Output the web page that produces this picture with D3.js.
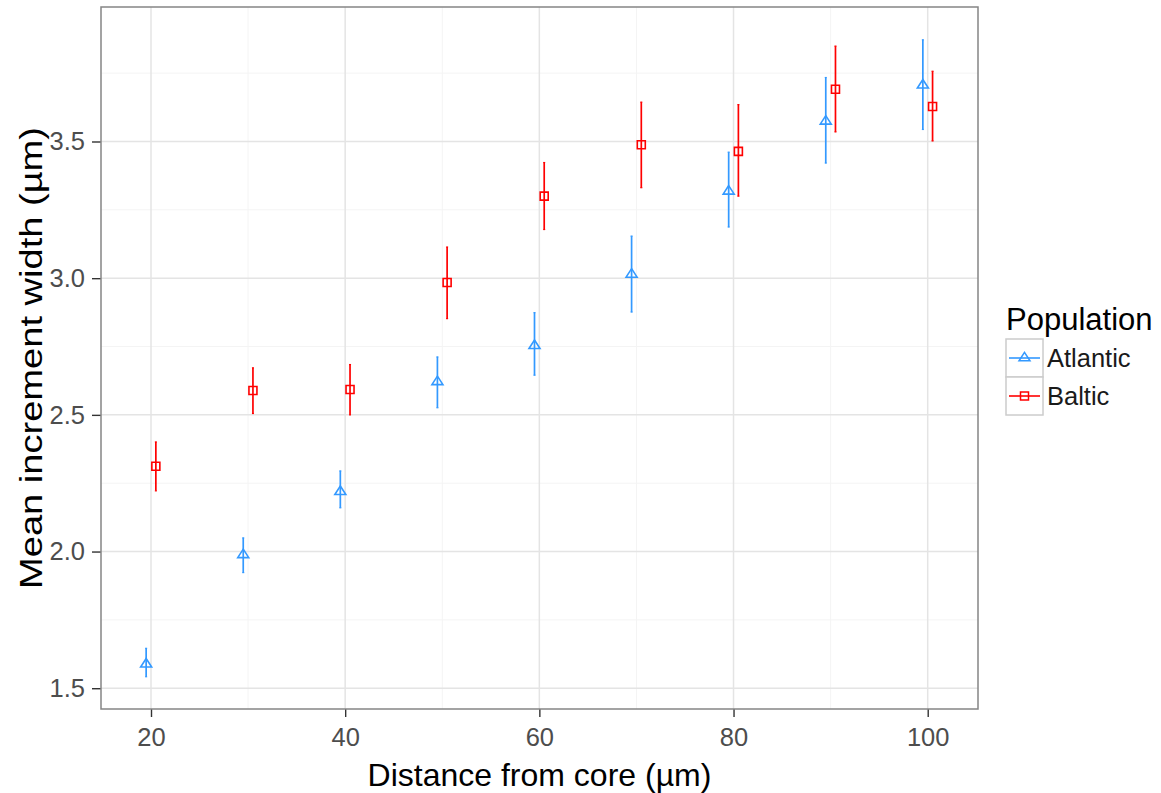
<!DOCTYPE html>
<html>
<head>
<meta charset="utf-8">
<script src="https://cdn.jsdelivr.net/npm/d3@7"></script>
<style>
  html, body { margin: 0; padding: 0; background: #fff; }
  svg { display: block; }
</style>
</head>
<body>
<div id="chart"></div>
<script>
// Data
var distances = [20, 30, 40, 50, 60, 70, 80, 90, 100];
var populations = ["Atlantic", "Baltic"];
var atlanticMean = [1.588, 1.988, 2.219, 2.621, 2.753, 3.014, 3.318, 3.574, 3.706];
var atlanticLow  = [1.542, 1.923, 2.160, 2.526, 2.645, 2.876, 3.187, 3.421, 3.544];
var atlanticHigh = [1.646, 2.050, 2.295, 2.712, 2.874, 3.154, 3.461, 3.734, 3.872];
var balticMean = [2.312, 2.589, 2.593, 2.984, 3.300, 3.488, 3.464, 3.691, 3.628];
var balticLow  = [2.222, 2.505, 2.500, 2.852, 3.178, 3.331, 3.300, 3.535, 3.502];
var balticHigh = [2.401, 2.672, 2.684, 3.114, 3.423, 3.644, 3.635, 3.849, 3.757];
var xTicks = [20, 40, 60, 80, 100];
var xMinor = [30, 50, 70, 90];
var yTicks = [1.5, 2.0, 2.5, 3.0, 3.5];
var yMinor = [1.75, 2.25, 2.75, 3.25, 3.75];

var colours = { Atlantic: "#3399ff", Baltic: "#ff0000" };
var dodge = { Atlantic: -0.5, Baltic: 0.5 };

var rows = [];
distances.forEach(function (d, i) {
  rows.push({ pop: "Atlantic", x: d, mean: atlanticMean[i], lo: atlanticLow[i], hi: atlanticHigh[i] });
  rows.push({ pop: "Baltic", x: d, mean: balticMean[i], lo: balticLow[i], hi: balticHigh[i] });
});

var width = 1161, height = 793;
var panel = { left: 101, right: 978, top: 7, bottom: 709 };
var font = "'Liberation Sans', Arial, sans-serif";

var svg = d3.select("#chart").append("svg")
  .attr("width", width).attr("height", height);

var x = d3.scaleLinear().domain([14.85, 105.18]).range([panel.left, panel.right]);
var y = d3.scaleLinear().domain([1.424, 3.992]).range([panel.bottom, panel.top]);

var g = svg.append("g");

// Minor grid
g.selectAll(".xminor").data(xMinor).join("line")
  .attr("x1", function (d) { return x(d); }).attr("x2", function (d) { return x(d); })
  .attr("y1", panel.top).attr("y2", panel.bottom)
  .attr("stroke", "#f4f4f4").attr("stroke-width", 1);
g.selectAll(".yminor").data(yMinor).join("line")
  .attr("y1", function (d) { return y(d); }).attr("y2", function (d) { return y(d); })
  .attr("x1", panel.left).attr("x2", panel.right)
  .attr("stroke", "#f4f4f4").attr("stroke-width", 1);

// Major grid
g.selectAll(".xmajor").data(xTicks).join("line")
  .attr("x1", function (d) { return x(d); }).attr("x2", function (d) { return x(d); })
  .attr("y1", panel.top).attr("y2", panel.bottom)
  .attr("stroke", "#e4e4e4").attr("stroke-width", 1.5);
g.selectAll(".ymajor").data(yTicks).join("line")
  .attr("y1", function (d) { return y(d); }).attr("y2", function (d) { return y(d); })
  .attr("x1", panel.left).attr("x2", panel.right)
  .attr("stroke", "#e4e4e4").attr("stroke-width", 1.5);

// Axes
var xAxis = d3.axisBottom(x).tickValues(xTicks).tickSize(8).tickPadding(11).tickFormat(d3.format("d"));
svg.append("g")
  .attr("transform", "translate(0," + panel.bottom + ")")
  .call(xAxis)
  .call(function (gg) { gg.select(".domain").remove(); })
  .call(function (gg) { gg.selectAll(".tick line").attr("stroke", "#333").attr("stroke-width", 1.4); })
  .call(function (gg) {
    gg.selectAll(".tick text").attr("font-family", font).attr("font-size", 25.5).attr("fill", "#4d4d4d");
  });

var yAxis = d3.axisLeft(y).tickValues(yTicks).tickSize(9).tickPadding(7).tickFormat(d3.format(".1f"));
svg.append("g")
  .attr("transform", "translate(" + panel.left + ",0)")
  .call(yAxis)
  .call(function (gg) { gg.select(".domain").remove(); })
  .call(function (gg) { gg.selectAll(".tick line").attr("stroke", "#333").attr("stroke-width", 1.4); })
  .call(function (gg) {
    gg.selectAll(".tick text").attr("font-family", font).attr("font-size", 25.5).attr("fill", "#4d4d4d");
  });

// Panel border
svg.append("rect")
  .attr("x", panel.left).attr("y", panel.top)
  .attr("width", panel.right - panel.left).attr("height", panel.bottom - panel.top)
  .attr("fill", "none").attr("stroke", "#858585").attr("stroke-width", 1.5);

// Shapes
function trianglePath(cx, cy) {
  var w = 11, h = 8.5;
  return "M" + cx + "," + (cy - h * 2 / 3) +
    "L" + (cx + w / 2) + "," + (cy + h / 3) +
    "L" + (cx - w / 2) + "," + (cy + h / 3) + "Z";
}
function squarePath(cx, cy) {
  var s = 8;
  return "M" + (cx - s / 2) + "," + (cy - s / 2) + "h" + s + "v" + s + "h" + (-s) + "Z";
}
function shapePath(pop, cx, cy) {
  return pop === "Atlantic" ? trianglePath(cx, cy) : squarePath(cx, cy);
}

var pts = svg.append("g");
function px(d) { return x(d.x + dodge[d.pop]); }

// Error bars
pts.selectAll(".err").data(rows).join("line")
  .attr("class", "err")
  .attr("x1", px).attr("x2", px)
  .attr("y1", function (d) { return y(d.lo); }).attr("y2", function (d) { return y(d.hi); })
  .attr("stroke", function (d) { return colours[d.pop]; }).attr("stroke-width", 1.7);
pts.selectAll(".cap-hi").data(rows).join("line")
  .attr("x1", function (d) { return px(d) - 1; }).attr("x2", function (d) { return px(d) + 1; })
  .attr("y1", function (d) { return y(d.hi); }).attr("y2", function (d) { return y(d.hi); })
  .attr("stroke", function (d) { return colours[d.pop]; }).attr("stroke-width", 1.2);
pts.selectAll(".cap-lo").data(rows).join("line")
  .attr("x1", function (d) { return px(d) - 1; }).attr("x2", function (d) { return px(d) + 1; })
  .attr("y1", function (d) { return y(d.lo); }).attr("y2", function (d) { return y(d.lo); })
  .attr("stroke", function (d) { return colours[d.pop]; }).attr("stroke-width", 1.2);

// Points
pts.selectAll(".pt").data(rows).join("path")
  .attr("class", "pt")
  .attr("d", function (d) { return shapePath(d.pop, px(d), y(d.mean)); })
  .attr("fill", "none")
  .attr("stroke", function (d) { return colours[d.pop]; }).attr("stroke-width", 1.6);

// Axis titles
svg.append("text")
  .attr("x", (panel.left + panel.right) / 2).attr("y", 786)
  .attr("text-anchor", "middle")
  .attr("font-family", font).attr("font-size", 32).attr("fill", "#000")
  .text("Distance from core (µm)");
svg.append("text")
  .attr("transform", "translate(42," + ((panel.top + panel.bottom) / 2) + ") rotate(-90)")
  .attr("text-anchor", "middle")
  .attr("font-family", font).attr("font-size", 32).attr("fill", "#000")
  .attr("textLength", 462).attr("lengthAdjust", "spacingAndGlyphs")
  .text("Mean increment width (µm)");

// Legend
var leg = svg.append("g").attr("transform", "translate(1006,0)");
leg.append("text")
  .attr("x", 0).attr("y", 330)
  .attr("font-family", font).attr("font-size", 31).attr("fill", "#000")
  .text("Population");
var keyW = 37, keyH = 38, keyTop = 339;
populations.forEach(function (p, i) {
  var top = keyTop + i * keyH;
  leg.append("rect")
    .attr("x", 0).attr("y", top).attr("width", keyW).attr("height", keyH)
    .attr("fill", "#fff").attr("stroke", "#cccccc").attr("stroke-width", 1.5);
  leg.append("line")
    .attr("x1", 3).attr("x2", keyW - 3)
    .attr("y1", top + keyH / 2).attr("y2", top + keyH / 2)
    .attr("stroke", colours[p]).attr("stroke-width", 1.6);
  leg.append("path")
    .attr("d", shapePath(p, keyW / 2, top + keyH / 2))
    .attr("fill", "none").attr("stroke", colours[p]).attr("stroke-width", 1.5);
  leg.append("text")
    .attr("x", keyW + 4).attr("y", top + keyH / 2 + 9)
    .attr("font-family", font).attr("font-size", 25.5).attr("fill", "#1a1a1a")
    .text(p);
});
</script>
</body>
</html>
